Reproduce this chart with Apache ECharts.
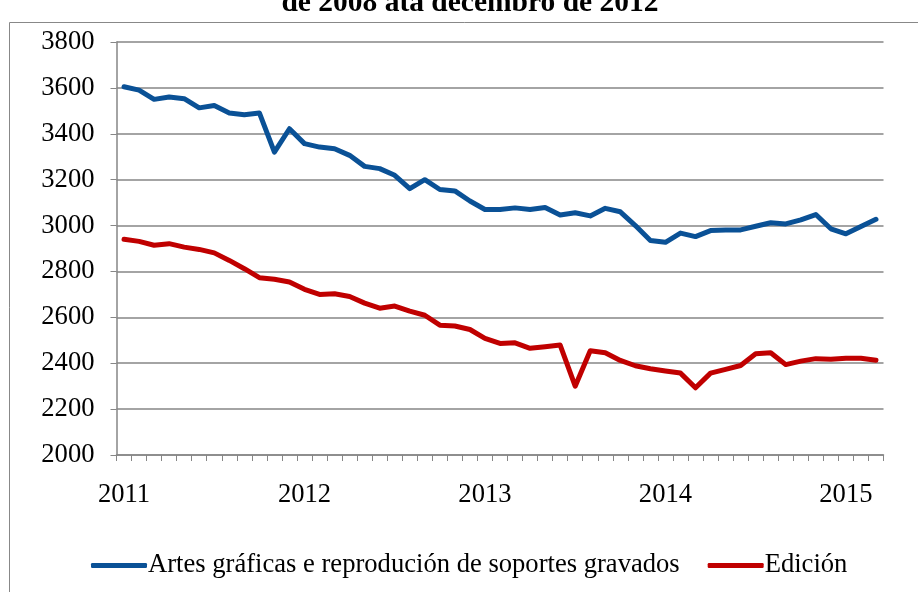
<!DOCTYPE html>
<html lang="gl">
<head>
    <meta charset="UTF-8">
    <title>Afiliados</title>
    <script src="https://cdn.jsdelivr.net/npm/echarts@6/dist/echarts.min.js"></script>
    <style>
        body { margin: 0; background: #fff; }
    </style>
</head>
<body>
    <div id="main" style="width: 918px;height:592px;"></div>
    <script type="text/javascript">
        // meses de xaneiro 2011 a marzo 2015
        var years = ['2011', '2012', '2013', '2014', '2015'];
        var months = [];
        for (var y = 0; y < years.length; y++) {
            for (var m = 1; m <= 12; m++) {
                if (years[y] === '2015' && m > 3) break;
                months.push(years[y] + '-' + (m < 10 ? '0' + m : m));
            }
        }

        var seriesNames = ['Artes gráficas e reprodución de soportes gravados', 'Edición'];

        var artesGraficas = [
            3605, 3590, 3550, 3560, 3553, 3513, 3523, 3491, 3483, 3491,
            3320, 3422, 3357, 3342, 3335, 3306, 3258, 3248, 3219, 3161,
            3200, 3157, 3151, 3107, 3070, 3070, 3077, 3070, 3079, 3046,
            3056, 3042, 3075, 3060, 3000, 2935, 2927, 2967, 2952, 2978,
            2981, 2981, 2997, 3012, 3007, 3025, 3048, 2986, 2964, 2996,
            3027
        ];
        var edicion = [
            2940, 2931, 2914, 2921, 2906, 2896, 2881, 2848, 2812, 2773,
            2766, 2754, 2722, 2700, 2703, 2691, 2662, 2640, 2649, 2627,
            2609, 2566, 2562, 2547, 2508, 2486, 2489, 2465, 2472, 2479,
            2300, 2454, 2446, 2412, 2389, 2376, 2366, 2357, 2293, 2357,
            2373, 2390, 2441, 2446, 2394, 2409, 2420, 2417, 2422, 2422,
            2413
        ];

        var myChart = echarts.init(document.getElementById('main'));
        var fontFam = '"Liberation Serif", "Times New Roman", serif';

        var option = {
            animation: false,
            backgroundColor: '#fff',
            textStyle: { fontFamily: fontFam },
            graphic: [
                {
                    type: 'rect',
                    shape: { x: 9.5, y: 22.5, width: 1000, height: 1000 },
                    style: { fill: 'none', stroke: '#888', lineWidth: 1 },
                    silent: true
                },
                {
                    type: 'text',
                    x: 470, y: 18.5,
                    style: {
                        text: 'de 2008 ata decembro de 2012',
                        font: 'bold 29.5px ' + fontFam,
                        fill: '#000',
                        textAlign: 'center',
                        textVerticalAlign: 'bottom'
                    }
                }
            ],
            grid: { left: 116.5, right: 34.5, top: 42, bottom: 137, containLabel: false },
            legend: {
                left: 86,
                top: 547,
                itemWidth: 56,
                itemHeight: 5,
                itemGap: 28,
                icon: 'roundRect',
                textStyle: { fontFamily: fontFam, fontSize: 26.6, color: '#000', padding: [0, 0, 0, -4] },
                data: seriesNames
            },
            xAxis: {
                type: 'category',
                data: months,
                boundaryGap: true,
                axisLine: { lineStyle: { color: '#868686', width: 1.5 } },
                axisTick: { show: true, interval: 0, length: 6, lineStyle: { color: '#868686', width: 1 } },
                axisLabel: {
                    interval: 0,
                    margin: 27,
                    fontSize: 26.6,
                    color: '#000',
                    fontFamily: fontFam,
                    formatter: function (v) {
                        return v.slice(5) === '01' ? v.slice(0, 4) : '';
                    }
                }
            },
            yAxis: {
                type: 'value',
                min: 2000,
                max: 3800,
                interval: 200,
                axisLine: { show: true, lineStyle: { color: '#868686', width: 1.5 } },
                axisTick: { show: true, length: 6, lineStyle: { color: '#868686', width: 1 } },
                splitLine: { lineStyle: { color: '#868686', width: 1.5 } },
                axisLabel: {
                    margin: 22, fontSize: 26.6, color: '#000', fontFamily: fontFam,
                    formatter: function (v) { return String(v); }
                }
            },
            series: [
                {
                    name: seriesNames[0],
                    type: 'line',
                    data: artesGraficas,
                    symbol: 'none',
                    lineStyle: { color: '#0A5196', width: 5, cap: 'round', join: 'round' },
                    itemStyle: { color: '#0A5196' }
                },
                {
                    name: seriesNames[1],
                    type: 'line',
                    data: edicion,
                    symbol: 'none',
                    lineStyle: { color: '#C00000', width: 5, cap: 'round', join: 'round' },
                    itemStyle: { color: '#C00000' }
                }
            ]
        };
        myChart.setOption(option);
    </script>
</body>
</html>
